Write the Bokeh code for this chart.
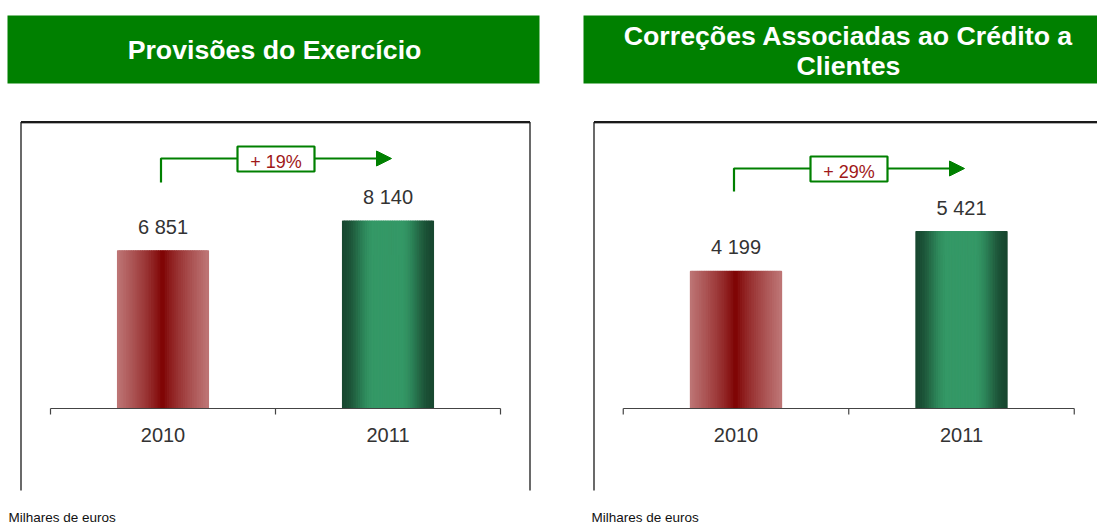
import numpy as np
from bokeh.plotting import figure
from bokeh.models import Range1d, ColumnDataSource
from bokeh.layouts import row
from bokeh.core.properties import value
from bokeh.embed import file_html
from bokeh.resources import INLINE

# ---------------- data ----------------
categories = ["2010", "2011"]
provisoes = [6851, 8140]          # Provisões do Exercício (milhares de euros)
correcoes = [4199, 5421]          # Correções Associadas ao Crédito a Clientes
provisoes_change = "+ 19%"
correcoes_change = "+ 29%"
title_left = ["Provisões do Exercício"]
title_right = ["Correções Associadas ao Crédito a", "Clientes"]
footnote = "Milhares de euros"

FONT = value("Liberation Sans")
GREEN = "#008000"
TOP = 0      # page y of canvas top
H = 525

def lerp(c1, c2, f):
    return "#%02x%02x%02x" % tuple(int(round(a + (b - a) * f)) for a, b in zip(c1, c2))

def red_col(t):
    return lerp((125, 0, 0), (190, 118, 118), t ** 0.8)

def green_col(t):
    s = min(max((t - 0.3) / 0.7, 0.0), 1.0)
    s = s * s * (3 - 2 * s)
    return lerp((52, 152, 102), (24, 72, 48), s)

def panel(vals, titles, change, g):
    x0, W, c0, u, base, k = g["x0"], g["W"], g["c0"], g["u"], g["base"], g["k"]
    X = lambda px: (px - c0) / u          # page px -> data x
    Y = lambda py: (base - py) / k        # page px -> data y
    p = figure(width=W, height=H, output_backend="svg", toolbar_location=None,
               x_range=Range1d(X(x0), X(x0 + W)), y_range=Range1d(Y(TOP + H), Y(TOP)),
               x_axis_location=None, y_axis_location=None, min_border=0,
               outline_line_color=None, background_fill_color="white",
               border_fill_color="white")
    p.grid.visible = False

    # header
    hl, hr, ht, hb = g["header"]
    p.quad(left=[X(hl)], right=[X(hr)], top=[Y(ht)], bottom=[Y(hb)],
           fill_color=GREEN, line_color=None)
    for txt, ty in zip(titles, g["title_y"]):
        p.text(x=[X(g["title_x"])], y=[Y(ty)], text=[txt], text_font=FONT,
               text_font_size="26.7px", text_font_style="bold", text_color="white",
               text_align="center", text_baseline="middle")

    # chart box (top, left, right borders)
    bl, br, bt, bb = g["box"]
    p.line(x=[X(bl), X(br)], y=[Y(bt + 1.5), Y(bt + 1.5)], line_color="#b0b0b0", line_width=1)
    p.line(x=[X(bl), X(br)], y=[Y(bt), Y(bt)], line_color="#1a1a1a", line_width=2)
    p.line(x=[X(bl), X(bl)], y=[Y(bt), Y(bb)], line_color="#1a1a1a", line_width=1.3)
    p.line(x=[X(br), X(br)], y=[Y(bt), Y(bb)], line_color="#1a1a1a", line_width=1.3)

    # bars as gradient strips
    bw = 0.404
    N = 40
    xs, tops, cols, ws = [], [], [], []
    for i, v in enumerate(vals):
        fn = red_col if i == 0 else green_col
        for j in range(N):
            off = -bw / 2 + (j + 0.5) * bw / N
            t = abs(off) / (bw / 2)
            xs.append(i + off)
            tops.append(v)
            cols.append(fn(t))
            ws.append(bw / N)
    src = ColumnDataSource(dict(x=xs, top=tops, color=cols, w=ws))
    p.vbar(x="x", top="top", bottom=0, width="w", fill_color="color",
           line_color="color", line_width=1.2, source=src)

    # axis line and ticks at category boundaries
    n = len(categories)
    p.line(x=[-0.5, n - 0.5], y=[0, 0], line_color="#444444", line_width=1.2)
    tx = [i - 0.5 for i in range(n + 1)]
    p.segment(x0=tx, y0=[0] * len(tx), x1=tx, y1=[-6 / k] * len(tx),
              line_color="#444444", line_width=1.2)
    p.text(x=list(range(n)), y=[0] * n, text=categories, y_offset=26.5,
           text_font=FONT, text_font_size="20px", text_color="#333333",
           text_align="center", text_baseline="middle")

    # value labels
    labels = [f"{v:,}".replace(",", " ") for v in vals]
    p.text(x=list(range(n)), y=vals, text=labels, y_offset=-24,
           text_font=FONT, text_font_size="20px", text_color="#333333",
           text_align="center", text_baseline="middle")

    # growth arrow
    a = g["arrow"]
    p.line(x=[X(a["vx"]), X(a["vx"]), X(a["head"])],
           y=[Y(a["vy0"]), Y(a["hy"]), Y(a["hy"])], line_color=GREEN, line_width=2.2)
    p.patch(x=[X(a["head"]), X(a["tip"]), X(a["head"])],
            y=[Y(a["hy"] - 7.5), Y(a["hy"]), Y(a["hy"] + 7.5)],
            fill_color=GREEN, line_color=GREEN, line_width=1)
    ll, lr, lt, lb = a["box"]
    p.quad(left=[X(ll)], right=[X(lr)], top=[Y(lt)], bottom=[Y(lb)],
           fill_color="white", line_color=GREEN, line_width=2.2)
    p.text(x=[X((ll + lr) / 2)], y=[Y(a["mid"])], text=[change],
           text_font=FONT, text_font_size="18px", text_color="#a01818",
           text_align="center", text_baseline="middle")

    # footnote
    p.text(x=[X(g["foot_x"])], y=[Y(516.5)], text=[footnote], text_font=FONT,
           text_font_size="13.5px", text_color="#111111", text_align="left",
           text_baseline="middle")
    return p

geo_left = dict(x0=0, W=548, c0=162.5, u=225.0, base=408, k=0.02302,
                header=(7, 539, 15, 83), title_x=274, title_y=[49.5],
                box=(20.5, 529.5, 121.5, 490),
                arrow=dict(vx=160.5, vy0=182, hy=158, head=376, tip=391,
                           box=(237, 314, 146, 171), mid=161),
                foot_x=8)
geo_right = dict(x0=548, W=549, c0=735.5, u=225.5, base=408, k=0.03264,
                 header=(583, 1110, 15, 83), title_x=848, title_y=[35, 65.5],
                 box=(593.5, 1110, 121.5, 490),
                 arrow=dict(vx=733.5, vy0=191, hy=168, head=949, tip=964,
                            box=(810, 887, 156, 181), mid=171),
                 foot_x=591)

p1 = panel(provisoes, title_left, provisoes_change, geo_left)
p2 = panel(correcoes, title_right, correcoes_change, geo_right)
layout = row(p1, p2, spacing=0)

open("out.html", "w").write(file_html(layout, INLINE))
